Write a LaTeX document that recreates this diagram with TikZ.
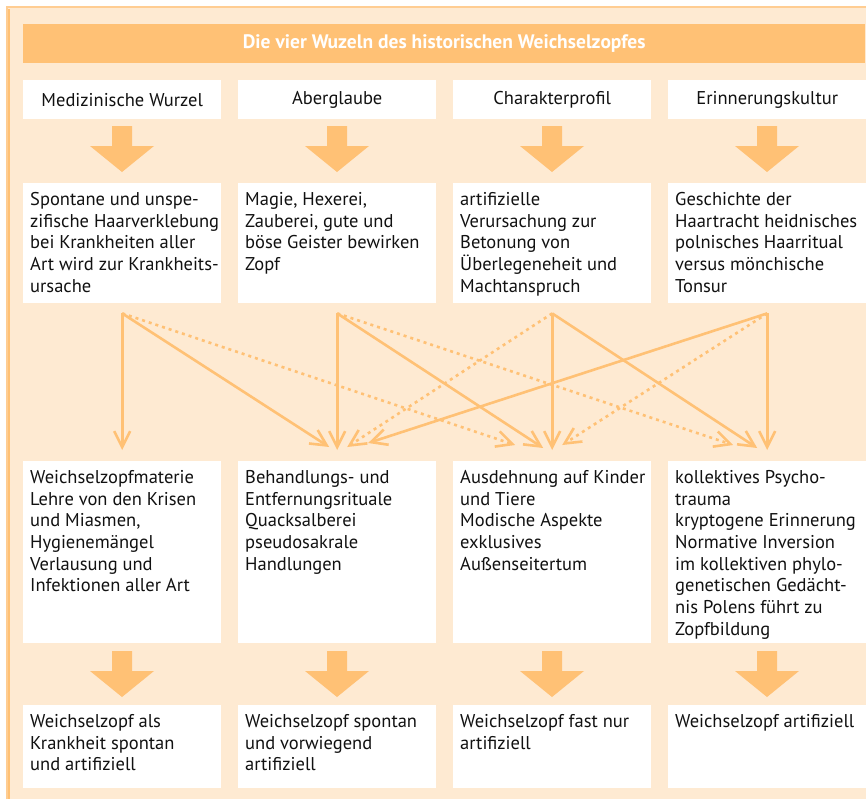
\documentclass[tikz,border=0pt]{standalone}
\usepackage{fontspec}
\setmainfont{PT Sans}
\usepackage{tikz}
\usetikzlibrary{positioning,calc,arrows.meta}
\definecolor{wzback}{HTML}{FEEAD2}
\definecolor{wzorange}{HTML}{FFC175}
\definecolor{wzline}{HTML}{FFCD92}
\definecolor{wztext}{HTML}{111111}
\tikzset{
  basic/.style  = {rectangle, fill=white, inner sep=0pt, anchor=north west,
                   minimum width=198pt},
  title/.style  = {basic, fill=wzorange, minimum width=842pt, minimum height=39pt,
                   text=white, font=\fontsize{19.5}{22}\selectfont\bfseries},
  head/.style   = {basic, minimum height=39pt, text=wztext,
                   font=\fontsize{18.5}{21.7}\selectfont},
  cell/.style   = {basic},
  txt/.style    = {anchor=north west, align=left, inner xsep=7pt, inner ysep=9pt,
                   text=wztext, font=\fontsize{18.5}{21.7}\selectfont},
  link/.style   = {->, draw=wzorange, line width=2.6pt,
                   >={Straight Barb[length=16pt,width=16pt]}},
  dotlink/.style = {link, dash pattern=on 3pt off 4pt}
}
% block arrow: centre x, top y
\newcommand{\blockarrow}[2]{%
  \fill[wzorange] (#1-10,#2) -- (#1+10,#2) -- (#1+10,#2+20) -- (#1+32,#2+20)
    -- (#1,#2+46) -- (#1-32,#2+20) -- (#1-10,#2+20) -- cycle;}

\begin{document}
\begin{tikzpicture}[x=1pt,y=-1pt]
  \useasboundingbox (0,0) rectangle (866,801);
  \fill[wzback] (6,6) rectangle (866,799);
  \draw[wzline, line width=1.5pt] (7,799) -- (7,7) -- (866,7);
  \draw[wzorange, line width=2pt] (9,9) -- (9,799);

  \node[title] (title) at (23,24) {Die vier Wuzeln des historischen Weichselzopfes};

  % roots
  \node[head] (h1) at (23,80)  {Medizinische Wurzel};
  \node[head] (h2) at (238,80) {Aberglaube};
  \node[head] (h3) at (453,80) {Charakterprofil};
  \node[head] (h4) at (668,80) {Erinnerungskultur};

  \blockarrow{122}{126}
  \blockarrow{337}{126}
  \blockarrow{552}{126}
  \blockarrow{767}{126}

  % causes
  \node[cell, minimum height=120pt] (m1) at (23,183)  {};
  \node[cell, minimum height=120pt] (m2) at (238,183) {};
  \node[cell, minimum height=120pt] (m3) at (453,183) {};
  \node[cell, minimum height=120pt] (m4) at (668,183) {};
  \node[txt] at (m1.north west) {Spontane und unspe-\\zifische Haarverklebung\\bei Krankheiten aller\\Art wird zur Krankheits-\\ursache};
  \node[txt] at (m2.north west) {Magie, Hexerei,\\Zauberei, gute und\\böse Geister bewirken\\Zopf};
  \node[txt] at (m3.north west) {artifizielle\\Verursachung zur\\Betonung von\\Überlegeneheit und\\Machtanspruch};
  \node[txt] at (m4.north west) {Geschichte der\\Haartracht heidnisches\\polnisches Haarritual\\versus mönchische\\Tonsur};

  % consequences
  \node[cell, minimum height=182pt] (n1) at (23,461)  {};
  \node[cell, minimum height=182pt] (n2) at (238,461) {};
  \node[cell, minimum height=182pt] (n3) at (453,461) {};
  \node[cell, minimum height=182pt] (n4) at (668,461) {};
  \node[txt] at (n1.north west) {Weichselzopfmaterie\\Lehre von den Krisen\\und Miasmen,\\Hygienemängel\\Verlausung und\\Infektionen aller Art};
  \node[txt] at (n2.north west) {Behandlungs- und\\Entfernungsrituale\\Quacksalberei\\pseudosakrale\\Handlungen};
  \node[txt] at (n3.north west) {Ausdehnung auf Kinder\\und Tiere\\Modische Aspekte\\exklusives\\Außenseitertum};
  \node[txt] at (n4.north west) {kollektives Psycho-\\trauma\\kryptogene Erinnerung\\Normative Inversion\\im kollektiven phylo-\\genetischen Gedächt-\\nis Polens führt zu\\Zopfbildung};

  \coordinate (s1) at ([yshift=-10pt]m1.south);
  \coordinate (s2) at ([yshift=-10pt]m2.south);
  \coordinate (s3) at ([yshift=-10pt]m3.south);
  \coordinate (s4) at ([yshift=-10pt]m4.south);

  \draw[link]    (s1) -- ([yshift=11pt]n1.north);
  \draw[link]    (s1) -- ([xshift=-8pt,yshift=14pt]n2.north);
  \draw[dotlink] (s1) -- ([xshift=-37pt,yshift=16pt]n3.north);
  \draw[link]    (s2) -- ([yshift=11pt]n2.north);
  \draw[link]    (s2) -- ([xshift=-9pt,yshift=13pt]n3.north);
  \draw[dotlink] (s2) -- ([xshift=-34pt,yshift=16pt]n4.north);
  \draw[dotlink] (s3) -- ([xshift=10pt,yshift=14pt]n2.north);
  \draw[link]    (s3) -- ([yshift=11pt]n3.north);
  \draw[link]    (s3) -- ([xshift=-10pt,yshift=13pt]n4.north);
  \draw[link]    (s4) -- ([xshift=31pt,yshift=18pt]n2.north);
  \draw[dotlink] (s4) -- ([xshift=10pt,yshift=16pt]n3.north);
  \draw[link]    (s4) -- ([yshift=11pt]n4.north);

  \blockarrow{122}{651}
  \blockarrow{337}{651}
  \blockarrow{552}{651}
  \blockarrow{767}{651}

  % results
  \node[cell, minimum height=83pt] (r1) at (23,705)  {};
  \node[cell, minimum height=83pt] (r2) at (238,705) {};
  \node[cell, minimum height=83pt] (r3) at (453,705) {};
  \node[cell, minimum height=83pt] (r4) at (668,705) {};
  \node[txt] at (r1.north west) {Weichselzopf als\\Krankheit spontan\\und artifiziell};
  \node[txt] at (r2.north west) {Weichselzopf spontan\\und vorwiegend\\artifiziell};
  \node[txt] at (r3.north west) {Weichselzopf fast nur\\artifiziell};
  \node[txt] at (r4.north west) {Weichselzopf artifiziell};
\end{tikzpicture}
\end{document}
